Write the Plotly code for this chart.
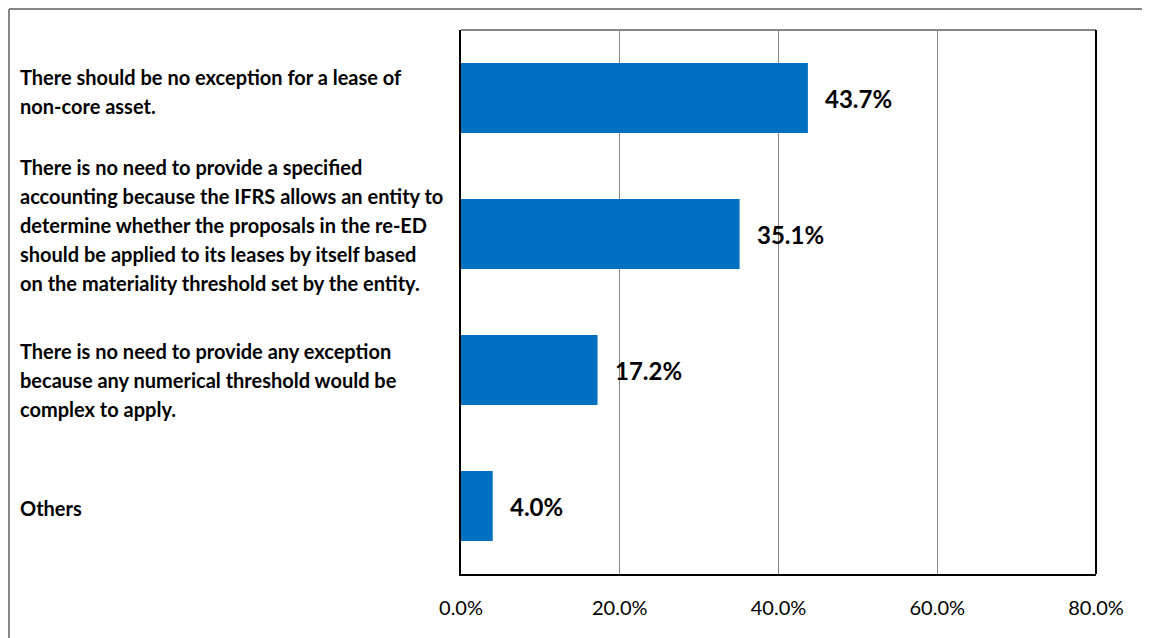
import plotly.graph_objects as go

categories = [
    ["There should be no exception for a lease of", "non-core asset."],
    ["There is no need to provide a specified",
     "accounting because the IFRS allows an entity to",
     "determine whether the proposals in the re-ED",
     "should be applied to its leases by itself based",
     "on the materiality threshold set by the entity."],
    ["There is no need to provide any exception",
     "because any numerical threshold would be",
     "complex to apply."],
    ["Others"],
]
values = [43.7, 35.1, 17.2, 4.0]
value_labels = ["43.7%", "35.1%", "17.2%", "4.0%"]
tick_vals = [0, 20, 40, 60, 80]
tick_text = ["0.0%", "20.0%", "40.0%", "60.0%", "80.0%"]
label_shifts = [7, 9, -10, -2]

W, H = 1142, 630
L, R, T, B = 453, 54, 22, 64
pw, ph = W - L - R, H - T - B
LINE = 29

ids = list(range(len(categories)))

fig = go.Figure()
fig.add_trace(go.Bar(
    x=values, y=ids, orientation="h",
    marker=dict(color="#0070C0", line=dict(width=0)),
    width=0.515, hoverinfo="skip",
))

ann = []
for i, (v, lab) in enumerate(zip(values, value_labels)):
    ann.append(dict(x=v, y=i, xref="x", yref="y", text="<b>" + lab + "</b>",
                    showarrow=False, xanchor="left", yanchor="middle",
                    xshift=15, yshift=0,
                    font=dict(family="Lato", size=24, color="#000000")))
for i, lines in enumerate(categories):
    n = len(lines)
    for k, line in enumerate(lines):
        ann.append(dict(x=(10 - L) / pw, y=i, xref="paper", yref="y",
                        text="<b>" + line + "</b>", showarrow=False, align="left",
                        xanchor="left", yanchor="middle",
                        yshift=label_shifts[i] - (k - (n - 1) / 2) * LINE,
                        font=dict(family="Lato", size=20, color="#000000")))

shapes = [
    # outer border (top and left)
    dict(type="line", xref="paper", yref="paper",
         x0=(1 - L) / pw, x1=(W - L) / pw, y0=1 + (T - 1) / ph, y1=1 + (T - 1) / ph,
         line=dict(color="#878787", width=2)),
    dict(type="line", xref="paper", yref="paper",
         x0=(1 - L) / pw, x1=(1 - L) / pw, y0=1 + (T - 1) / ph, y1=-(B + 2) / ph,
         line=dict(color="#878787", width=2)),
    # plot frame
    dict(type="line", xref="paper", yref="paper", x0=0, x1=1, y0=1, y1=1,
         line=dict(color="#878787", width=2)),
    dict(type="line", xref="paper", yref="paper", x0=1, x1=1, y0=0, y1=1,
         line=dict(color="#000000", width=2)),
]

fig.update_layout(
    width=W, height=H,
    margin=dict(l=L, r=R, t=T, b=B),
    paper_bgcolor="white", plot_bgcolor="white",
    showlegend=False,
    xaxis=dict(range=[0, 80], tickvals=tick_vals, ticktext=tick_text,
               showgrid=True, gridcolor="#878787", gridwidth=1,
               showline=True, linecolor="#000000", linewidth=2,
               zeroline=False, ticks="", ticklen=0, ticklabelstandoff=15,
               tickfont=dict(family="Lato", size=20, color="#000000")),
    yaxis=dict(range=[3.5, -0.5], showticklabels=False, showgrid=False,
               showline=True, linecolor="#000000", linewidth=2,
               zeroline=False, ticks=""),
    annotations=ann,
    shapes=shapes,
)

fig.write_html("out.html")
